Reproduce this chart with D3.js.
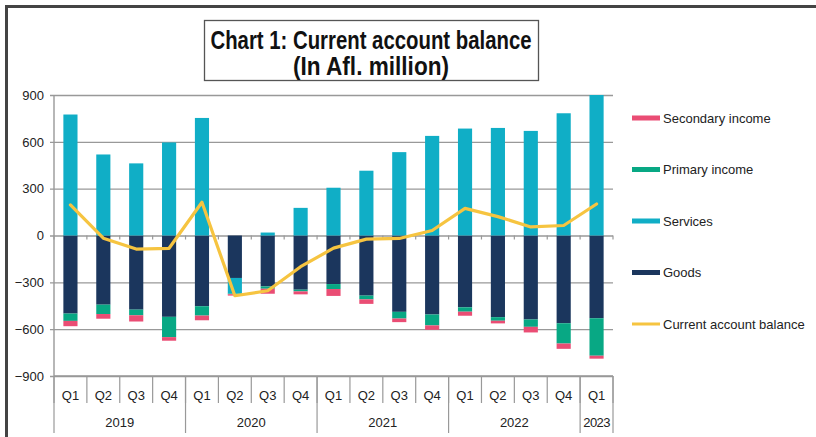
<!DOCTYPE html>
<html>
<head>
<meta charset="utf-8">
<script src="https://cdn.jsdelivr.net/npm/d3@7"></script>
<style>
  body { margin: 0; background: #fff; }
  svg { display: block; font-family: "Liberation Sans", Arial, sans-serif; }
</style>
</head>
<body>
<div id="chart"></div>
<script>
var quarters = ["Q1","Q2","Q3","Q4","Q1","Q2","Q3","Q4","Q1","Q2","Q3","Q4","Q1","Q2","Q3","Q4","Q1"];
var years = ["2019","2020","2021","2022","2023"];
var yearQuarters = [4, 4, 4, 4, 1];
var goods = [-500,-443,-475,-521,-453,-272,-326,-347,-311,-385,-489,-506,-460,-523,-538,-562,-530];
var services = [775,519,462,596,753,-100,19,177,306,415,534,638,685,689,670,783,991];
var primaryIncome = [-47,-60,-36,-130,-60,-4,-15,-11,-32,-24,-43,-70,-28,-23,-47,-130,-240];
var secondaryIncome = [-34,-30,-40,-23,-30,-9,-32,-19,-44,-29,-23,-28,-26,-17,-36,-34,-19];
var currentAccount = [196,-17,-87,-82,213,-386,-354,-200,-81,-23,-19,32,174,121,55,64,202];
var yTicks = [900,600,300,0,-300,-600,-900];

function init() {
    var w = 816, h = 437;
    var left = 54, right = 613, top = 95, bottom = 376;

    var keys = ["goods","services","primary","secondary"];
    var colors = {goods: "#1b365d", services: "#10aec6", primary: "#08a884", secondary: "#ea4d74"};
    var lineColor = "#f6c440";

    var rows = quarters.map(function(q, i) {
        return {i: i, goods: goods[i], services: services[i], primary: primaryIncome[i], secondary: secondaryIncome[i]};
    });

    var x = d3.scaleBand().domain(d3.range(quarters.length)).range([left, right]).paddingInner(0.57).paddingOuter(0.285);
    var xb = d3.scaleBand().domain(d3.range(quarters.length)).range([left, right]);
    var y = d3.scaleLinear().domain([-900, 900]).range([bottom, top]);

    var svg = d3.select("#chart").append("svg").attr("width", w).attr("height", h);

    // outer frame (only top and left edges are visible in the picture)
    svg.append("rect").attr("x", 6.5).attr("y", 6.5).attr("width", w + 20).attr("height", h + 20)
        .attr("fill", "none").attr("stroke", "#444").attr("stroke-width", 3);

    // title
    var tb = svg.append("g");
    tb.append("rect").attr("x", 204.5).attr("y", 20.5).attr("width", 334).attr("height", 60)
        .attr("fill", "#fff").attr("stroke", "#555").attr("stroke-width", 1.3);
    tb.append("text").attr("x", 371).attr("y", 49).attr("text-anchor", "middle")
        .attr("font-size", 25).attr("font-weight", "bold").attr("fill", "#111")
        .attr("textLength", 321).attr("lengthAdjust", "spacingAndGlyphs")
        .text("Chart 1: Current account balance");
    tb.append("text").attr("x", 371).attr("y", 75).attr("text-anchor", "middle")
        .attr("font-size", 25).attr("font-weight", "bold").attr("fill", "#111")
        .attr("textLength", 156).attr("lengthAdjust", "spacingAndGlyphs")
        .text("(In Afl. million)");

    // gridlines + y axis
    var yAxis = d3.axisLeft(y).tickValues(yTicks).tickSize(-(right - left) - 4).tickFormat(d3.format("d"));
    var gy = svg.append("g").attr("transform", "translate(" + (left - 4) + ",0)").call(yAxis);
    gy.select(".domain").remove();
    gy.selectAll(".tick line").attr("stroke", "#999").attr("stroke-width", 1.4).attr("x1", 0).attr("x2", right - left + 4);
    gy.selectAll(".tick text").attr("x", -6).attr("font-size", 13).attr("fill", "#222")
        .attr("font-family", "Liberation Sans, Arial, sans-serif");
    svg.append("line").attr("x1", left).attr("x2", left).attr("y1", top).attr("y2", bottom)
        .attr("stroke", "#999").attr("stroke-width", 1.4);

    // small ticks on the zero line
    svg.append("g").selectAll("line").data(d3.range(quarters.length + 1)).enter().append("line")
        .attr("x1", function(d) { return left + d * xb.bandwidth(); })
        .attr("x2", function(d) { return left + d * xb.bandwidth(); })
        .attr("y1", y(0)).attr("y2", y(0) + 4)
        .attr("stroke", "#999").attr("stroke-width", 1.2);

    // stacked bars
    svg.append("clipPath").attr("id", "plotclip").append("rect")
        .attr("x", left).attr("y", top).attr("width", right - left).attr("height", bottom - top);
    var stack = d3.stack().keys(keys).offset(d3.stackOffsetDiverging);
    var series = stack(rows);
    svg.append("g").attr("clip-path", "url(#plotclip)")
        .selectAll("g").data(series).enter().append("g")
        .attr("fill", function(s) { return colors[s.key]; })
        .selectAll("rect").data(function(s) { return s; }).enter().append("rect")
        .attr("x", function(d) { return x(d.data.i); })
        .attr("width", x.bandwidth())
        .attr("y", function(d) { return y(Math.max(d[0], d[1])); })
        .attr("height", function(d) { return Math.abs(y(d[0]) - y(d[1])); });

    // current account line
    var line = d3.line()
        .x(function(d, i) { return x(i) + x.bandwidth() / 2; })
        .y(function(d) { return y(d); });
    svg.append("path").datum(currentAccount).attr("d", line)
        .attr("fill", "none").attr("stroke", lineColor).attr("stroke-width", 3.2)
        .attr("stroke-linejoin", "round").attr("stroke-linecap", "round");

    // category axis
    var ax = svg.append("g");
    ax.append("line").attr("x1", left).attr("x2", right).attr("y1", bottom).attr("y2", bottom)
        .attr("stroke", "#999").attr("stroke-width", 1.4);
    ax.selectAll("text.q").data(quarters).enter().append("text").attr("class", "q")
        .attr("x", function(d, i) { return xb(i) + xb.bandwidth() / 2; })
        .attr("y", 400).attr("text-anchor", "middle").attr("font-size", 13).attr("fill", "#222")
        .text(function(d) { return d; });
    ax.selectAll("line.qs").data(d3.range(quarters.length + 1)).enter().append("line").attr("class", "qs")
        .attr("x1", function(d) { return left + d * xb.bandwidth(); })
        .attr("x2", function(d) { return left + d * xb.bandwidth(); })
        .attr("y1", bottom).attr("y2", 403)
        .attr("stroke", "#999").attr("stroke-width", 1.2);

    var starts = [0];
    yearQuarters.forEach(function(n, i) { starts.push(starts[i] + n); });
    ax.selectAll("line.ys").data(starts).enter().append("line").attr("class", "ys")
        .attr("x1", function(d) { return left + d * xb.bandwidth(); })
        .attr("x2", function(d) { return left + d * xb.bandwidth(); })
        .attr("y1", bottom).attr("y2", 433)
        .attr("stroke", "#999").attr("stroke-width", 1.2);
    ax.selectAll("text.y").data(years).enter().append("text").attr("class", "y")
        .attr("x", function(d, i) { return left + (starts[i] + yearQuarters[i] / 2) * xb.bandwidth(); })
        .attr("y", 427).attr("text-anchor", "middle").attr("font-size", 13).attr("fill", "#222")
        .attr("letter-spacing", function(d, i) { return yearQuarters[i] === 1 ? -0.6 : 0; })
        .text(function(d) { return d; });

    // legend
    var legendItems = [
        {name: "Secondary income", color: colors.secondary, type: "bar"},
        {name: "Primary income", color: colors.primary, type: "bar"},
        {name: "Services", color: colors.services, type: "bar"},
        {name: "Goods", color: colors.goods, type: "bar"},
        {name: "Current account balance", color: lineColor, type: "line"}
    ];
    var lg = svg.append("g").selectAll("g").data(legendItems).enter().append("g")
        .attr("transform", function(d, i) { return "translate(632," + (118 + i * 51.5) + ")"; });
    lg.append("rect")
        .attr("x", 0).attr("width", 28)
        .attr("y", function(d) { return d.type === "line" ? -1.5 : -2.5; })
        .attr("height", function(d) { return d.type === "line" ? 3 : 5; })
        .attr("fill", function(d) { return d.color; });
    lg.append("text").attr("x", 31).attr("y", 4.5).attr("font-size", 13).attr("fill", "#222")
        .text(function(d) { return d.name; });
}
window.onload = init;
</script>
</body>
</html>
